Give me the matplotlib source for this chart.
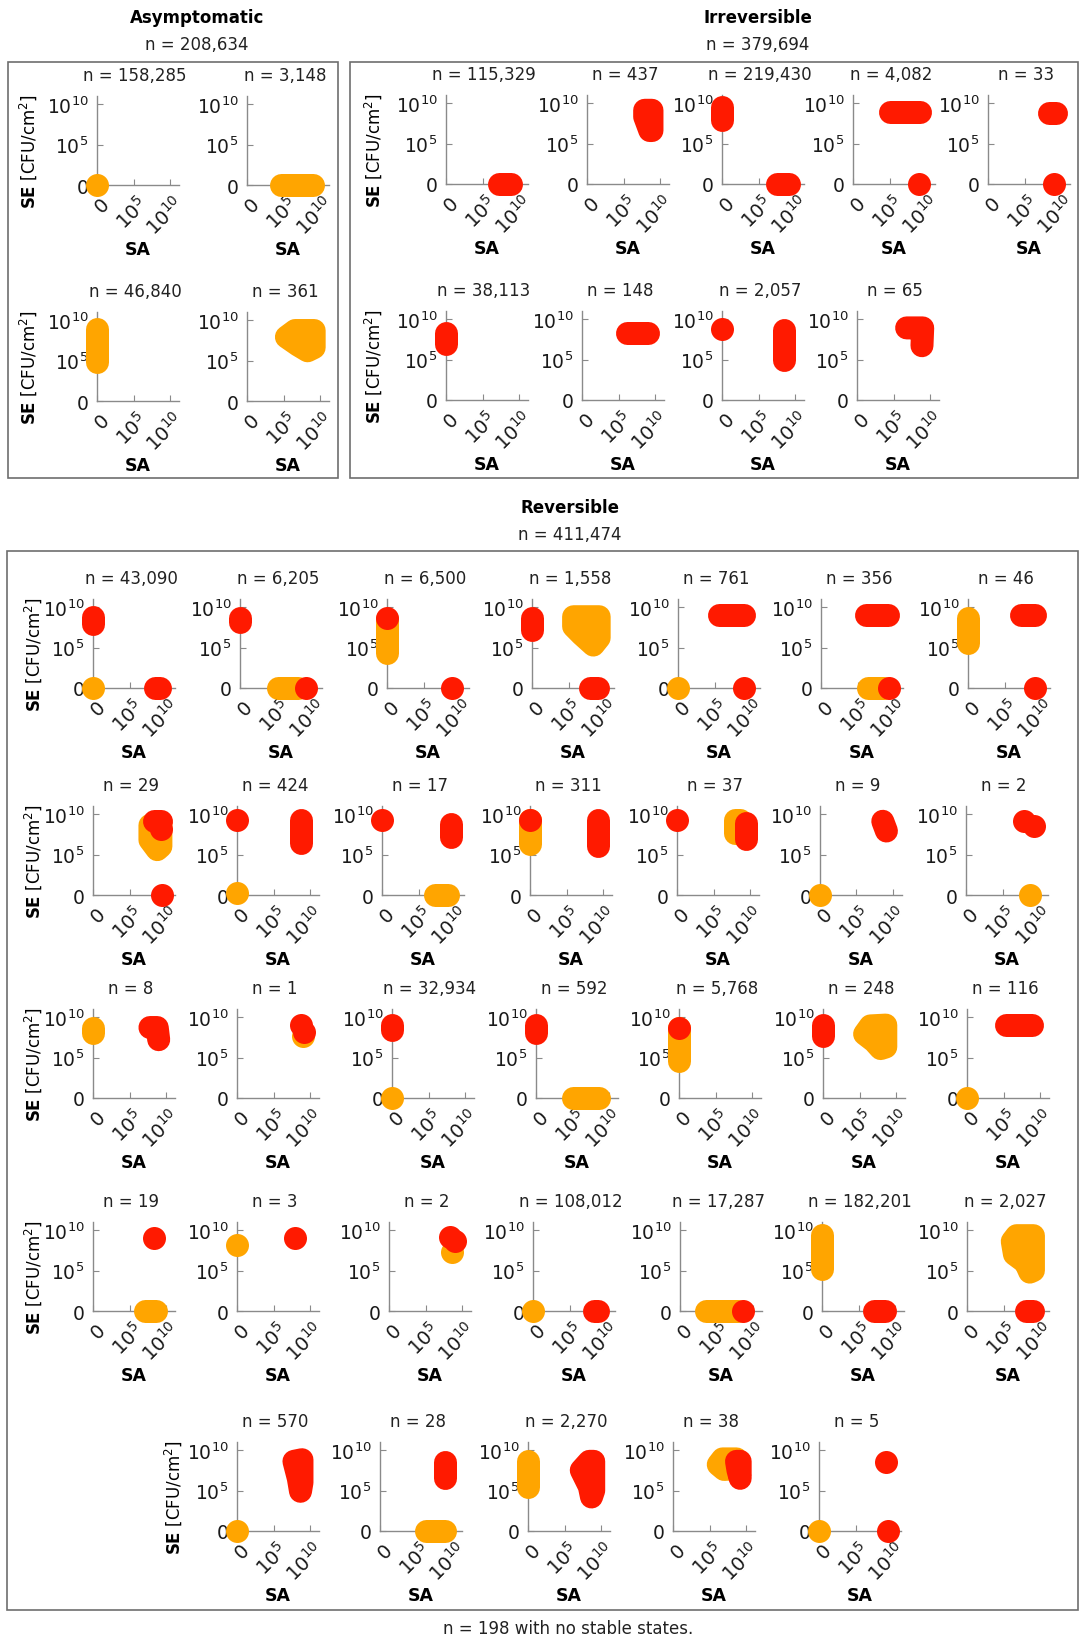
import matplotlib
matplotlib.use("Agg")
import matplotlib.pyplot as plt
from matplotlib.patches import Polygon, Rectangle
from matplotlib.transforms import ScaledTranslation

plt.rcParams["font.family"] = ["DejaVu Sans"]
plt.rcParams["mathtext.fontset"] = "dejavusans"

# ---------------------------------------------------------------------------
# Data: number of parameter sets per stable-state pattern, and the stable
# states of each pattern in decades (log10 CFU/cm^2) as (colour, kind, points).
# kind "L" = states spread along a path, "A" = states filling an area.
# ---------------------------------------------------------------------------
asym_counts = [158285, 3148, 46840, 361]
irrev_counts = [115329, 437, 219430, 4082, 33, 38113, 148, 2057, 65]
rev_counts = [43090, 6205, 6500, 1558, 761, 356, 46,
              29, 424, 17, 311, 37, 9, 2,
              8, 1, 32934, 592, 5768, 248, 116,
              19, 3, 2, 108012, 17287, 182201, 2027,
              570, 28, 2270, 38, 5]
group_totals = {"Asymptomatic": 208634, "Irreversible": 379694, "Reversible": 411474}
no_stable = 198

asym_states = [
    [("o", "L", [(0, 0)])],
    [("o", "L", [(4.6, 0), (9.1, 0)])],
    [("o", "L", [(0, 4.8), (0, 8.9)])],
    [("o", "A", [(5.4, 7.9), (6.6, 8.7), (9.2, 8.7), (9.2, 6.6), (8.3, 6.2), (7.0, 6.9)])],
]

irrev_states = [
    [("r", "L", [(7.2, 0), (8.9, 0)])],
    [("r", "A", [(7.9, 9.1), (8.9, 9.1), (8.9, 6.6), (8.6, 6.6), (7.9, 8.3)])],
    [("r", "L", [(0, 7.9), (0, 9.5)]), ("r", "L", [(7.5, 0), (9.2, 0)])],
    [("r", "L", [(5.0, 8.9), (9.2, 8.9)]), ("r", "L", [(9.0, 0)])],
    [("r", "L", [(8.3, 8.8), (9.3, 8.8)]), ("r", "L", [(9.0, 0)])],
    [("r", "L", [(0, 6.9), (0, 8.3)])],
    [("r", "L", [(6.1, 8.3), (9.0, 8.3)])],
    [("r", "L", [(0, 8.8)]), ("r", "L", [(8.5, 8.7), (8.5, 5.0)])],
    [("r", "L", [(6.8, 8.9), (9.0, 8.9), (8.9, 6.7)])],
]

rev_states = [
    # row 1
    [("o", "L", [(0, 0)]), ("r", "L", [(0, 7.9), (0, 8.8)]), ("r", "L", [(8.5, 0), (9.2, 0)])],
    [("r", "L", [(0, 8.2), (0, 8.7)]), ("o", "L", [(5.2, 0), (8.0, 0)]), ("r", "L", [(9.1, 0)])],
    [("o", "L", [(0, 4.3), (0, 8.5)]), ("r", "L", [(0, 8.6)]), ("r", "L", [(8.9, 0)])],
    [("r", "L", [(0, 7.1), (0, 8.7)]),
     ("o", "A", [(5.7, 8.8), (9.2, 8.8), (9.2, 6.2), (8.4, 5.3), (6.8, 6.6), (5.7, 7.6)]),
     ("r", "L", [(7.9, 0), (9.1, 0)])],
    [("o", "L", [(0, 0)]), ("r", "L", [(5.6, 9.0), (9.1, 9.0)]), ("r", "L", [(9.1, 0)])],
    [("r", "L", [(6.2, 9.0), (9.2, 9.0)]), ("o", "L", [(6.4, 0), (8.6, 0)]), ("r", "L", [(9.3, 0)])],
    [("o", "L", [(0, 5.5), (0, 8.7)]), ("r", "L", [(7.2, 9.0), (9.2, 9.0)]), ("r", "L", [(9.2, 0)])],
    # row 2
    [("o", "A", [(7.8, 8.6), (9.3, 9.0), (9.3, 6.0), (8.8, 5.6), (7.8, 6.8)]),
     ("r", "L", [(8.4, 9.1), (9.3, 9.1)]), ("r", "L", [(9.3, 8.2)]), ("r", "L", [(9.5, 0)])],
    [("o", "L", [(0, 0.2)]), ("r", "L", [(0, 9.2)]), ("r", "L", [(8.8, 9.2), (8.8, 6.4)])],
    [("r", "L", [(0, 9.2)]), ("r", "L", [(9.4, 8.8), (9.4, 7.2)]), ("o", "L", [(7.3, 0), (9.0, 0)])],
    [("o", "L", [(0, 6.3), (0, 9.2)]), ("r", "L", [(0, 9.3)]), ("r", "L", [(9.3, 9.3), (9.3, 6.1)])],
    [("r", "L", [(0, 9.2)]), ("o", "A", [(8.0, 9.2), (8.6, 9.2), (8.6, 7.7), (8.0, 7.7)]),
     ("r", "L", [(9.4, 8.9), (9.4, 6.9)])],
    [("o", "L", [(0, 0)]), ("r", "L", [(8.6, 9.1), (9.1, 7.9)])],
    [("o", "L", [(8.8, 0)]), ("r", "L", [(7.9, 9.1)]), ("r", "L", [(9.3, 8.5)])],
    # row 3
    [("o", "L", [(0, 8.0), (0, 8.6)]), ("r", "L", [(7.8, 8.7), (8.8, 8.7), (9.0, 7.2)])],
    [("o", "L", [(9.1, 7.6)]), ("r", "L", [(8.8, 9.0)]), ("r", "L", [(9.2, 8.2)])],
    [("r", "L", [(0, 8.4), (0, 9.0)]), ("o", "L", [(0, 0)])],
    [("r", "L", [(0, 8.0), (0, 9.0)]), ("o", "L", [(5.0, 0), (8.6, 0)])],
    [("o", "L", [(0, 4.6), (0, 8.6)]), ("r", "L", [(0, 8.7)])],
    [("r", "L", [(0, 7.6), (0, 9.0)]),
     ("o", "A", [(5.7, 7.9), (6.5, 8.9), (8.6, 9.0), (8.6, 6.3), (7.9, 6.1), (7.0, 7.0)])],
    [("o", "L", [(0, 0)]), ("r", "L", [(5.3, 9.0), (8.9, 9.0)])],
    # row 4
    [("r", "L", [(8.3, 9.0)]), ("o", "L", [(7.1, 0), (8.6, 0)])],
    [("o", "L", [(0, 8.1)]), ("r", "L", [(7.9, 9.0)])],
    [("o", "L", [(8.6, 7.3)]), ("r", "L", [(8.3, 9.1)]), ("r", "L", [(9.0, 8.6)])],
    [("o", "L", [(0, 0)]), ("r", "L", [(8.3, 0), (8.9, 0)])],
    [("o", "L", [(3.6, 0), (8.0, 0)]), ("r", "L", [(8.6, 0)])],
    [("o", "L", [(0, 5.2), (0, 9.4)]), ("r", "L", [(7.1, 0), (8.6, 0)])],
    [("o", "A", [(6.2, 8.6), (6.8, 9.3), (9.1, 9.3), (9.1, 5.0), (8.6, 4.8), (8.0, 6.0), (6.5, 7.0)]),
     ("r", "L", [(8.1, 0), (9.1, 0)])],
    # row 5
    [("o", "L", [(0, 0)]), ("r", "A", [(7.8, 8.6), (8.9, 8.8), (8.9, 6.0), (8.7, 4.9), (8.4, 6.5)])],
    [("r", "L", [(8.9, 8.5), (8.9, 6.5)]), ("o", "L", [(6.3, 0), (8.9, 0)])],
    [("o", "L", [(0, 5.4), (0, 8.7)]),
     ("r", "A", [(7.3, 7.5), (8.4, 8.6), (9.0, 8.6), (9.0, 5.0), (8.7, 4.2), (8.4, 5.5)])],
    [("o", "A", [(6.2, 8.2), (6.8, 8.9), (8.7, 8.9), (8.5, 7.7), (7.0, 7.6)]),
     ("r", "A", [(8.7, 8.6), (9.2, 8.6), (9.2, 6.5), (8.9, 7.5)])],
    [("o", "L", [(0, 0)]), ("r", "L", [(9.2, 8.5)]), ("r", "L", [(9.5, 0)])],
]

tick_pos = [0, 5, 10]
tick_labels = ["0", r"$10^{5}$", r"$10^{10}$"]

# ---------------------------------------------------------------------------
# Layout (pixels on a 1079 x 1640 canvas)
# ---------------------------------------------------------------------------
FW, FH = 1079, 1640
PX_X, PX_Y = 7.3, 8.1        # pixels per decade
AX_W, AX_H = 82, 89          # axis line lengths in pixels
DOT = 23 * 0.72              # state marker diameter in points

COLORS = {"o": "#FFA500", "r": "#FF1A00"}
SPINE = "#8a8a8a"

fig = plt.figure(figsize=(FW / 100, FH / 100), dpi=100)
# rotated SA tick labels end just right of and below their tick
xlab_shift = ScaledTranslation(10 / 100, -15 / 100, fig.dpi_scale_trans)


def fx(x):
    return x / FW


def fy(y):
    return 1 - y / FH


def panel(ox, oy, count, states, ylab_x=None):
    ax = fig.add_axes([fx(ox), fy(oy), AX_W / FW, AX_H / FH])
    ax.set_facecolor("none")
    ax.set_xlim(0, AX_W / PX_X)
    ax.set_ylim(0, AX_H / PX_Y)
    for side in ("top", "right"):
        ax.spines[side].set_visible(False)
    for side in ("left", "bottom"):
        ax.spines[side].set_color(SPINE)
        ax.spines[side].set_linewidth(1.0)
        ax.spines[side].set_zorder(0.5)
    ax.set_axisbelow(True)
    ax.set_xticks(tick_pos)
    ax.set_yticks(tick_pos)
    ax.set_xticklabels(tick_labels, rotation=45, ha="right", va="center",
                       rotation_mode="anchor")
    ax.set_yticklabels(tick_labels)
    ax.tick_params(direction="in", length=4, width=0.8, color=SPINE,
                   labelcolor="#1a1a1a")
    ax.tick_params(axis="x", labelsize=14, pad=0)
    ax.tick_params(axis="y", labelsize=13.5, pad=6)
    for lab in ax.get_xticklabels():
        lab.set_transform(lab.get_transform() + xlab_shift)

    for col, kind, pts in states:
        c = COLORS[col]
        xs = [p[0] for p in pts]
        ys = [p[1] for p in pts]
        if kind == "A":
            ax.add_patch(Polygon(pts, closed=True, fc=c, ec=c, lw=DOT,
                                 joinstyle="round", clip_on=False, zorder=3))
        elif len(pts) == 1:
            ax.plot(xs, ys, "o", ms=DOT, color=c, mec="none", clip_on=False, zorder=3)
        else:
            ax.plot(xs, ys, "-", lw=DOT, color=c, solid_capstyle="round",
                    solid_joinstyle="round", clip_on=False, zorder=3)

    fig.text(fx(ox + 38), fy(oy - 110), f"n = {count:,}", ha="center", va="center",
             fontsize=12, color="#222222")
    fig.text(fx(ox + 41), fy(oy + 64), "SA", ha="center", va="center",
             fontsize=12.5, fontweight="bold")
    if ylab_x is not None:
        fig.text(fx(ylab_x), fy(oy - 34), r"$\mathbf{SE}$ [CFU/cm$^{2}$]", rotation=90,
                 ha="center", va="center", fontsize=12)
    return ax


def group_box(x0, y0, x1, y1):
    fig.add_artist(Rectangle((fx(x0), fy(y1)), (x1 - x0) / FW, (y1 - y0) / FH,
                             transform=fig.transFigure, fill=False,
                             ec="#6e6e6e", lw=1.2))


def group_title(x, y, name):
    fig.text(fx(x), fy(y), name, ha="center", va="center", fontsize=12, fontweight="bold")
    fig.text(fx(x), fy(y + 27), f"n = {group_totals[name]:,}", ha="center", va="center",
             fontsize=12, color="#222222")


# Asymptomatic
group_box(8, 63, 338, 479)
group_title(197, 18, "Asymptomatic")
asym_grid = [(97, 186), (247, 186), (97, 402), (247, 402)]
for i, (ox, oy) in enumerate(asym_grid):
    panel(ox, oy, asym_counts[i], asym_states[i], ylab_x=28 if i % 2 == 0 else None)

# Irreversible
group_box(350, 63, 1078, 479)
group_title(758, 18, "Irreversible")
irrev_grid = [(446, 185), (587, 185), (722, 185), (853, 185), (988, 185),
              (446, 401), (582, 401), (722, 401), (857, 401)]
for i, (ox, oy) in enumerate(irrev_grid):
    panel(ox, oy, irrev_counts[i], irrev_states[i], ylab_x=373 if i in (0, 5) else None)

# Reversible
group_box(7, 552, 1078, 1611)
group_title(570, 508, "Reversible")
rev_rows_y = [689, 896, 1099, 1312, 1532]
rev_rows_x = [
    [93, 240, 387, 532, 678, 821, 968],
    [93, 237, 382, 530, 677, 820, 966],
    [93, 237, 392, 536, 679, 823, 967],
    [93, 237, 389, 533, 680, 822, 967],
    [237, 380, 528, 673, 819],
]
k = 0
for r, (oy, xs) in enumerate(zip(rev_rows_y, rev_rows_x)):
    for j, ox in enumerate(xs):
        ylx = None
        if j == 0:
            ylx = 33 if r < 4 else 173
        panel(ox, oy, rev_counts[k], rev_states[k], ylab_x=ylx)
        k += 1

fig.text(fx(568), fy(1629), f"n = {no_stable} with no stable states.", ha="center",
         va="center", fontsize=12, color="#222222")

fig.savefig("out.png", dpi=100)
